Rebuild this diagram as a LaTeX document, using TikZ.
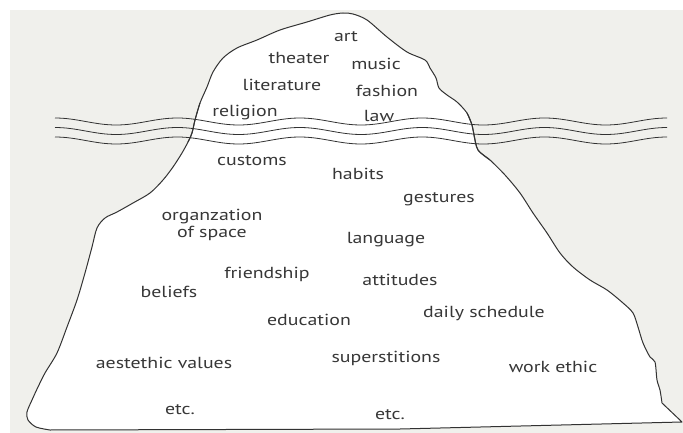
\documentclass[tikz,border=0pt]{standalone}
\usepackage{fontspec}
\setmainfont{PT Sans}[FakeStretch=1.24]
\definecolor{bg}{RGB}{240,240,236}
\definecolor{ink}{RGB}{50,50,50}
\definecolor{txt}{RGB}{55,55,55}
\tikzset{
  lbl/.style={font=\fontsize{16}{18}\selectfont, text=txt, inner sep=0pt, anchor=base},
  wave/.style={draw=ink, line width=0.8pt},
  berg/.style={fill=white, draw=ink, line width=1pt, line join=round}
}
\begin{document}
\begin{tikzpicture}[x=1pt,y=-1pt]
\useasboundingbox (0,0) rectangle (683,433);
\fill[bg] (10,10) rectangle (683,433);
% iceberg
\path[berg] plot[smooth, tension=0.5] coordinates {
 (50,430) (36,427) (28,420) (27,412) (32,400) (38,387) (45,373) (57,353) (67,327) (77,300) (85,273) (92,247) (97,228)
 (105,218) (117,212) (133,203) (150,193) (163,180) (173,167) (182,153) (188,142) (192,133) (195,120) (200,103)
 (207,87) (213,72) (223,58) (237,48) (257,40) (280,30) (307,22) (330,15) (343,13) (353,14) (367,20) (387,37)
 (407,52) (425,60) (430,68) (436,78) (439,88) (447,95) (457,102) (467,113) (472,125) (474,135) (478,150)
 (490,160) (505,175) (520,193) (533,213) (547,233) (560,253) (573,267) (590,280) (607,290) (623,303) (633,313)
 (638,327) (643,343) (650,357) (655,362) (657,380) (660,390) (662,403)}
 -- (682,422) -- (400,429) -- cycle;
% labels
\node[lbl] (art) at (346,42) {art};
\node[lbl] (theater) at (299,64) {theater};
\node[lbl] (music) at (376,70) {music};
\node[lbl] (literature) at (282,91) {literature};
\node[lbl] (fashion) at (387,97) {fashion};
\node[lbl] (religion) at (245,117) {religion};
\node[lbl] (law) at (379,122) {law};
\node[lbl] (customs) at (252,166) {customs};
\node[lbl] (habits) at (358,179) {habits};
\node[lbl] (gestures) at (439,202) {gestures};
\node[lbl] (organzation) at (212,220) {organzation};
\node[lbl] (ofspace) at (212,237) {of space};
\node[lbl] (language) at (386,243) {language};
\node[lbl] (friendship) at (267,278) {friendship};
\node[lbl] (attitudes) at (400,285) {attitudes};
\node[lbl] (beliefs) at (169,297) {beliefs};
\node[lbl] (daily) at (484,317) {daily schedule};
\node[lbl] (education) at (309,325) {education};
\node[lbl] (superstitions) at (386,362) {superstitions};
\node[lbl] (aesthetic) at (164,368) {aestethic values};
\node[lbl] (workethic) at (553,372) {work ethic};
\node[lbl] (etcA) at (180,414) {etc.};
\node[lbl] (etcB) at (390,419) {etc.};
% waves
\foreach \yo in {121.5,131,140.5}
  \draw[wave] plot[domain=55:667, samples=160, smooth] (\x, {\yo - 3.5*cos(2.94118*(\x-55))});
% outline redrawn over the waves
\path[draw=ink, line width=1pt, line join=round] plot[smooth, tension=0.5] coordinates {
 (188,142) (192,133) (195,120) (200,103)};
\path[draw=ink, line width=1pt, line join=round] plot[smooth, tension=0.5] coordinates {
 (467,113) (472,125) (474,135) (478,150) (490,160)};
\end{tikzpicture}
\end{document}
